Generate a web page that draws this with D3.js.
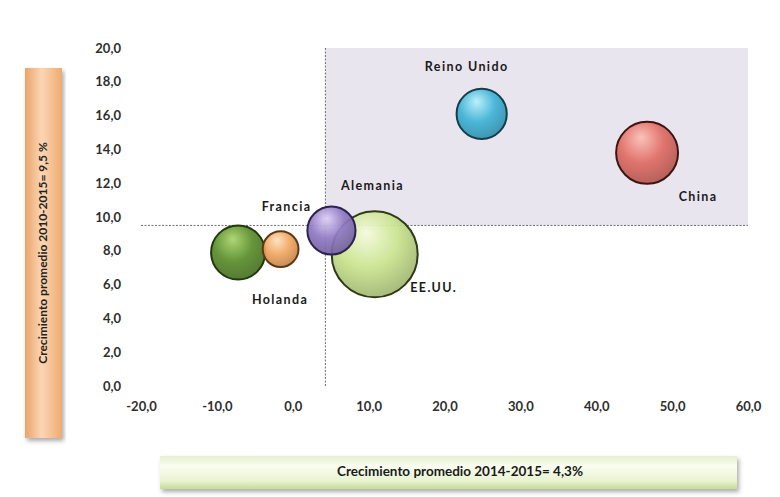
<!DOCTYPE html>
<html><head><meta charset="utf-8">
<script src="https://cdn.jsdelivr.net/npm/d3@7"></script>
<style>
html,body{margin:0;padding:0;background:#fff;}
svg{display:block;font-family:Lato,"Open Sans",sans-serif;}
</style></head>
<body>
<svg id="chart" width="780" height="497"></svg>
<script>
// ---- data ----
const countries = ["Holanda", "Francia", "EE.UU.", "Alemania", "Reino Unido", "China"];
const growth1415 = [-7.2, -1.6, 10.8, 5.1, 24.9, 46.7];   // x: Crecimiento promedio 2014-2015 (%)
const growth1015 = [7.9, 8.1, 7.8, 9.2, 16.1, 13.8];      // y: Crecimiento promedio 2010-2015 (%)
const bubbleSize = [7.3, 3.2, 18.5, 5.8, 6.3, 9.6];
const avgX = 4.3;
const avgY = 9.5;
const xTicks = [-20, -10, 0, 10, 20, 30, 40, 50, 60];
const yTicks = [0, 2, 4, 6, 8, 10, 12, 14, 16, 18, 20];
const xTitle = "Crecimiento promedio 2014-2015= 4,3%";
const yTitle = "Crecimiento promedio  2010-2015= 9,5 %";

// ---- styles ----
const colors = {
  "Holanda":    {hi:"#a9d46a", base:"#5a8d2c", edge:"#22380e"},
  "Francia":    {hi:"#fde0bd", base:"#f0a560", edge:"#5e3815"},
  "EE.UU.":     {hi:"#f3fadc", base:"#c9e38e", edge:"#2f3a16"},
  "Alemania":   {hi:"#ddd0f3", base:"#8f79c4", edge:"#2f2250"},
  "Reino Unido":{hi:"#b9f0fb", base:"#3fb3d6", edge:"#143e4c"},
  "China":      {hi:"#fbc0b6", base:"#df6c64", edge:"#3c1512"}
};
const labelOffset = {
  "Holanda":[42,48], "Francia":[6,-41], "EE.UU.":[59,35],
  "Alemania":[41,-44], "Reino Unido":[-15,-46], "China":[51,45]
};

const svg = d3.select("#chart");
const x = d3.scaleLinear().domain([-20, 60]).range([141, 748]);
const y = d3.scaleLinear().domain([0, 20]).range([386, 48]);
const r = d3.scaleSqrt().domain([0, 18.5]).range([0, 43]);

const defs = svg.append("defs");
const fShadow = defs.append("filter").attr("id","shadow").attr("x","-10%").attr("y","-30%").attr("width","120%").attr("height","170%");
fShadow.append("feDropShadow").attr("dx",2).attr("dy",3).attr("stdDeviation",2).attr("flood-color","#777").attr("flood-opacity",0.6);

countries.forEach((c,i)=>{
  const g = defs.append("radialGradient").attr("id","g"+i).attr("cx","42%").attr("cy","35%").attr("r","65%").attr("fx","40%").attr("fy","25%");
  g.append("stop").attr("offset","0%").attr("stop-color",colors[c].hi);
  g.append("stop").attr("offset","55%").attr("stop-color",colors[c].base);
  g.append("stop").attr("offset","100%").attr("stop-color",d3.color(colors[c].base).darker(0.6));
});

const og = defs.append("linearGradient").attr("id","orangeBar").attr("x1","0").attr("x2","1").attr("y1","0").attr("y2","0");
og.append("stop").attr("offset","0%").attr("stop-color","#eaa46a");
og.append("stop").attr("offset","45%").attr("stop-color","#fbd6b4");
og.append("stop").attr("offset","100%").attr("stop-color","#efab70");
const gg = defs.append("linearGradient").attr("id","greenBar").attr("x1","0").attr("x2","0").attr("y1","0").attr("y2","1");
gg.append("stop").attr("offset","0%").attr("stop-color","#e6efcf");
gg.append("stop").attr("offset","30%").attr("stop-color","#fafdf0");
gg.append("stop").attr("offset","75%").attr("stop-color","#e9f3d2");
gg.append("stop").attr("offset","100%").attr("stop-color","#c6dc98");

// shaded quadrant
svg.append("rect")
  .attr("x", x(avgX)).attr("y", y(20))
  .attr("width", x(60)-x(avgX)).attr("height", y(avgY)-y(20))
  .attr("fill", "#e9e5ee");

// average lines
svg.append("line").attr("x1", x(-20)).attr("x2", x(60)).attr("y1", y(avgY)).attr("y2", y(avgY))
  .attr("stroke","#6d6d6d").attr("stroke-width",1).attr("stroke-dasharray","2,1.5");
svg.append("line").attr("x1", x(avgX)).attr("x2", x(avgX)).attr("y1", y(20)).attr("y2", y(0))
  .attr("stroke","#6d6d6d").attr("stroke-width",1).attr("stroke-dasharray","2,1.5");

// axes (labels only)
const tickFmt = d => d3.format(".1f")(d).replace(".", ",").replace("−","-");
const xAxis = svg.append("g").attr("transform",`translate(0,${y(0)+13})`)
  .call(d3.axisBottom(x).tickValues(xTicks).tickFormat(tickFmt).tickSize(0));
const yAxis = svg.append("g").attr("transform",`translate(${x(-20)-17},0)`)
  .call(d3.axisLeft(y).tickValues(yTicks).tickFormat(tickFmt).tickSize(0));
[xAxis, yAxis].forEach(a=>{
  a.select(".domain").remove();
  a.selectAll("text").attr("font-family","Lato, sans-serif").attr("font-weight","bold")
    .attr("font-size","13px").attr("fill","#2e2e2e");
});

// bubbles
const data = countries.map((c,i)=>({c, x:growth1415[i], y:growth1015[i], s:bubbleSize[i], i}));
svg.append("g").selectAll("circle").data(data).join("circle")
  .attr("cx", d=>x(d.x)).attr("cy", d=>y(d.y)).attr("r", d=>r(d.s))
  .attr("fill", d=>`url(#g${d.i})`).attr("fill-opacity", 0.93)
  .attr("stroke", d=>colors[d.c].edge).attr("stroke-width", 2);

// bubble labels
svg.append("g").selectAll("text").data(data).join("text")
  .attr("x", d=>x(d.x)+labelOffset[d.c][0]).attr("y", d=>y(d.y)+labelOffset[d.c][1])
  .attr("text-anchor","middle").attr("dominant-baseline","middle")
  .attr("font-weight","bold").attr("font-size","12.5px").attr("letter-spacing","1.4px")
  .attr("fill","#1a1a1a").text(d=>d.c);

// y title box
svg.append("rect").attr("x",25).attr("y",68).attr("width",37).attr("height",370)
  .attr("fill","url(#orangeBar)").attr("filter","url(#shadow)");
svg.append("text").attr("transform","translate(47,253) rotate(-90)")
  .attr("text-anchor","middle").attr("font-weight","bold").attr("font-size","12px")
  .attr("fill","#222").text(yTitle);

// x title box
svg.append("rect").attr("x",160).attr("y",456).attr("width",577).attr("height",33)
  .attr("fill","url(#greenBar)").attr("filter","url(#shadow)");
svg.append("text").attr("x",460).attr("y",473).attr("dominant-baseline","middle")
  .attr("text-anchor","middle").attr("font-weight","bold").attr("font-size","13.5px")
  .attr("fill","#1a1a1a").text(xTitle);
</script>
</body></html>
